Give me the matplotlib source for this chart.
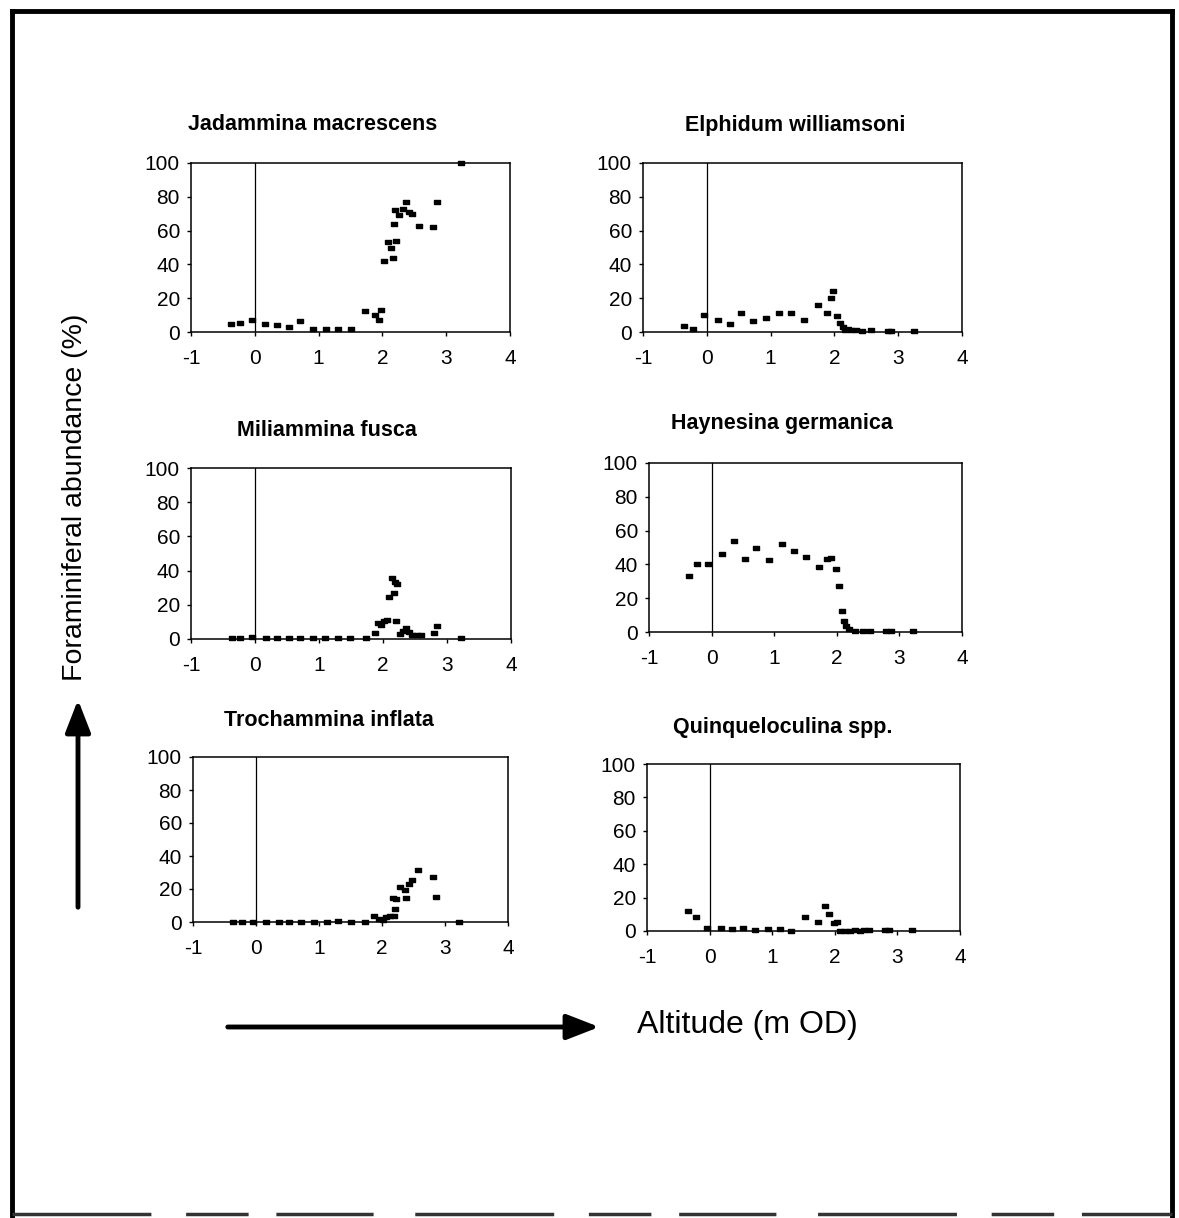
import matplotlib
matplotlib.use("Agg")
import matplotlib.pyplot as plt
from matplotlib.lines import Line2D

plt.rcParams['font.family'] = ['Liberation Sans', 'DejaVu Sans']
plt.rcParams['axes.unicode_minus'] = False

# Altitude (m OD) and relative abundance (%) for each species
jad_alt = [-0.37, -0.23, -0.05, 0.16, 0.35, 0.53, 0.71, 0.92, 1.11, 1.30, 1.51,
           1.73, 1.88, 1.94, 1.98, 2.03, 2.08, 2.14, 2.16, 2.18, 2.21, 2.20,
           2.26, 2.33, 2.37, 2.41, 2.47, 2.57, 2.80, 2.85, 3.23]
jad_pct = [5, 5.5, 7.3, 5, 4, 3, 6.3, 2, 1.6, 1.6, 1.6,
           12.5, 10, 7.3, 12.9, 42, 53, 49.5, 44, 64, 54, 72,
           69.5, 73, 77, 71, 70, 63, 62, 77, 100]

elp_alt = [-0.35, -0.22, -0.05, 0.17, 0.36, 0.54, 0.72, 0.93, 1.13, 1.32, 1.52,
           1.74, 1.88, 1.94, 1.98, 2.04, 2.08, 2.13, 2.17, 2.21, 2.26, 2.34,
           2.44, 2.58, 2.84, 2.89, 3.25]
elp_pct = [3.4, 1.6, 10.3, 7, 5, 11.3, 6.5, 8, 11.3, 11, 7.3,
           15.8, 11.3, 20, 24, 9.5, 5.5, 3, 1.4, 2, 1, 1,
           0.6, 1.4, 0.6, 0.6, 0.6]

mil_alt = [-0.36, -0.23, -0.05, 0.17, 0.35, 0.53, 0.71, 0.91, 1.10, 1.30, 1.49,
           1.73, 1.87, 1.92, 1.97, 2.01, 2.06, 2.09, 2.14, 2.17, 2.18, 2.22,
           2.21, 2.26, 2.32, 2.36, 2.41, 2.45, 2.53, 2.59, 2.80, 2.85, 3.22]
mil_pct = [0.4, 0.4, 1.2, 0.4, 0.4, 0.4, 0.4, 0.4, 0.4, 0.4, 0.4,
           0.4, 3.7, 9.6, 8.2, 10.7, 11, 24.4, 35.5, 26.8, 33.2, 32,
           10.5, 3, 4.7, 6.6, 4.3, 2.3, 2.3, 2.3, 3.7, 7.8, 0.4]

hay_alt = [-0.36, -0.23, -0.06, 0.17, 0.35, 0.53, 0.71, 0.91, 1.12, 1.31, 1.50,
           1.72, 1.85, 1.91, 1.98, 2.03, 2.08, 2.12, 2.14, 2.19, 2.29, 2.42,
           2.53, 2.79, 2.87, 3.22]
hay_pct = [33, 40, 40, 46, 54, 43, 50, 42.6, 52, 48, 44.5,
           38.6, 43, 44, 37, 27.3, 12.5, 6.3, 3.6, 1.6, 0.8, 0.6,
           0.6, 0.6, 0.6, 0.6]

tro_alt = [-0.37, -0.23, -0.05, 0.16, 0.36, 0.53, 0.72, 0.92, 1.12, 1.30, 1.51,
           1.73, 1.88, 1.96, 2.01, 2.06, 2.13, 2.17, 2.19, 2.21, 2.22, 2.28,
           2.36, 2.38, 2.43, 2.48, 2.57, 2.81, 2.85, 3.23]
tro_pct = [0, 0, 0, 0, 0, 0, 0, 0, 0, 0.4, 0,
           0, 3.4, 1.8, 1.4, 2.8, 3.4, 14.5, 3.8, 7.8, 14, 21.3,
           19.3, 14.5, 23, 25.6, 31.6, 27, 15, 0]

qui_alt = [-0.35, -0.21, -0.04, 0.18, 0.36, 0.54, 0.72, 0.93, 1.12, 1.30, 1.52,
           1.73, 1.85, 1.91, 1.98, 2.03, 2.09, 2.16, 2.24, 2.32, 2.40, 2.47,
           2.55, 2.80, 2.86, 3.23]
qui_pct = [12, 8.2, 1.6, 1.6, 1.2, 1.6, 0.6, 1, 1.4, 0.2, 8.6,
           5.6, 15, 10, 4.6, 5.6, 0.2, 0.2, 0.2, 0.6, 0.2, 0.6,
           0.6, 0.6, 0.6, 0.6]

titles = ['Jadammina macrescens', 'Elphidum williamsoni', 'Miliammina fusca',
          'Haynesina germanica', 'Trochammina inflata', 'Quinqueloculina spp.']
series = [(jad_alt, jad_pct), (elp_alt, elp_pct), (mil_alt, mil_pct),
          (hay_alt, hay_pct), (tro_alt, tro_pct), (qui_alt, qui_pct)]
x_ticks = [-1, 0, 1, 2, 3, 4]
y_ticks = [0, 20, 40, 60, 80, 100]

W, H = 1179, 1218
fig = plt.figure(figsize=(W / 100, H / 100), dpi=100)

# panel boxes in pixels: left, right, top, bottom
boxes = [(191, 510, 163, 332), (643, 962, 163, 332),
         (191, 511, 468, 639), (649, 962, 463, 632),
         (193, 508, 757, 922), (647, 960, 764, 931)]
title_pos = [(313, 125), (795, 125), (327, 430), (782, 424), (329, 720), (783, 727)]

# small wide square marker
rect = [(-1, -0.7), (1, -0.7), (1, 0.7), (-1, 0.7), (-1, -0.7)]

for (l, r, t, b), (xs, ys), name, (tx, ty) in zip(boxes, series, titles, title_pos):
    ax = fig.add_axes([l / W, 1 - b / H, (r - l) / W, (b - t) / H])
    ax.plot(xs, ys, linestyle='none', marker=rect, markersize=4.7,
            color='black', clip_on=False, zorder=3)
    ax.axvline(0, color='black', lw=0.9)
    ax.set_xlim(-1, 4)
    ax.set_ylim(0, 100)
    ax.set_xticks(x_ticks)
    ax.set_yticks(y_ticks)
    ax.tick_params(direction='out', length=3, width=1, labelsize=15)
    ax.tick_params(axis='x', pad=9)
    ax.tick_params(axis='y', pad=5)
    for s in ax.spines.values():
        s.set_linewidth(1.1)
    fig.text(tx / W, 1 - ty / H, name, ha='center', va='center',
             fontsize=15.5, fontweight='bold')

# shared axis labels and arrows
fig.text(75 / W, 1 - 497 / H, 'Foraminiferal abundance (%)', rotation=90,
         ha='center', va='center', fontsize=20.5)
fig.text(637 / W, 1 - 1025 / H, 'Altitude (m OD)', ha='left', va='center',
         fontsize=23)

fig.patches.append(matplotlib.patches.FancyArrowPatch(
    (78 / W, 1 - 910 / H), (78 / W, 1 - 697 / H), transform=fig.transFigure,
    arrowstyle='-|>,head_length=0.9,head_width=0.35', mutation_scale=22,
    lw=3.5, color='black'))
fig.patches.append(matplotlib.patches.FancyArrowPatch(
    (225 / W, 1 - 1027 / H), (602 / W, 1 - 1027 / H), transform=fig.transFigure,
    arrowstyle='-|>,head_length=0.9,head_width=0.35', mutation_scale=22,
    lw=3.5, color='black'))

# outer frame
frame = dict(color='black', lw=3.5, transform=fig.transFigure)
fig.lines.append(Line2D([12 / W, 12 / W], [1 - 11 / H, 0], **frame))
fig.lines.append(Line2D([12 / W, 1172 / W], [1 - 11 / H, 1 - 11 / H], **frame))
fig.lines.append(Line2D([1172 / W, 1172 / W], [1 - 11 / H, 0], **frame))
fig.lines.append(Line2D([12 / W, 1172 / W], [1 - 1214 / H, 1 - 1214 / H],
                        color='0.2', lw=2.5, dashes=(40, 10, 18, 8, 28, 12),
                        transform=fig.transFigure))

fig.savefig('out.png', dpi=100, facecolor='white')
